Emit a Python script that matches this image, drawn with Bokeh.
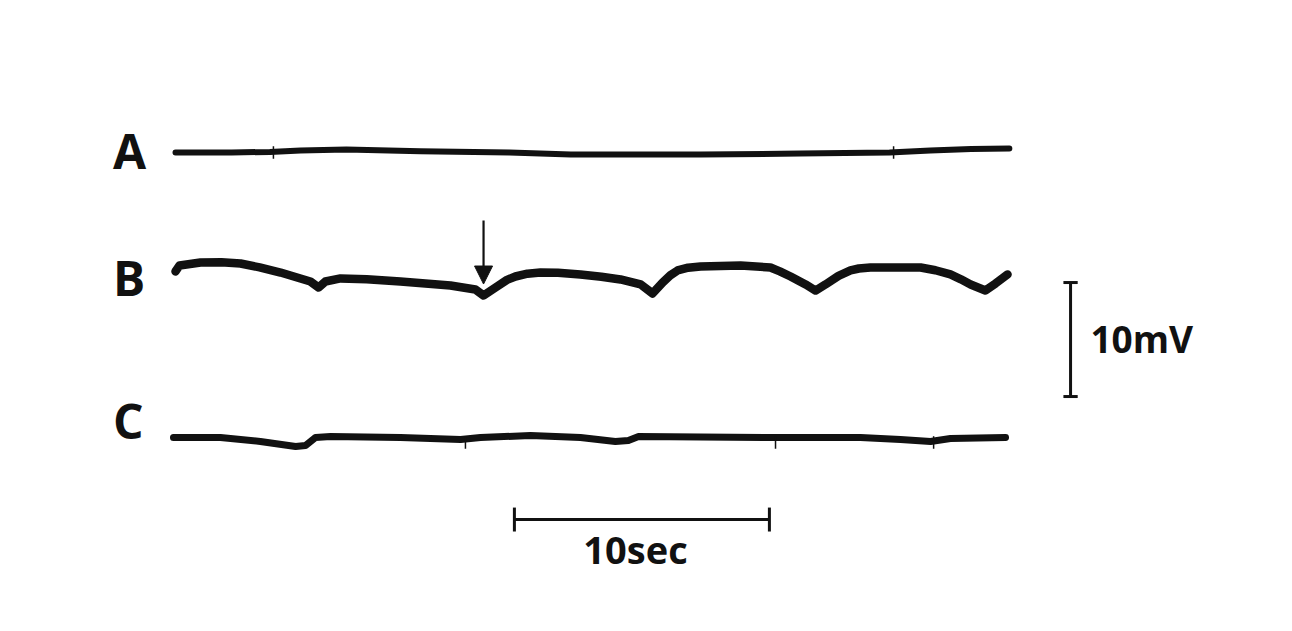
from bokeh.plotting import figure
from bokeh.models import Range1d, Arrow, NormalHead
from bokeh.embed import file_html
from bokeh.resources import INLINE
from bokeh.core.properties import value

# ---- data (time in s, potential in mV relative to each trace's baseline) ----
a_t = [0, 2.2, 3.7, 4.9, 6.7, 9.6, 13.1, 14.3, 15.5, 20.6, 24.5, 28.0, 29.6, 31.2, 32.7]
a_v = [0, 0, 0.05, 0.18, 0.26, 0.1, 0, -0.1, -0.18, -0.18, -0.1, 0, 0.18, 0.3, 0.35]

b_t = [0, 0.16, 0.98, 1.8, 2.55, 3.3, 4.12, 5.29, 5.61, 5.88, 6.47, 7.5, 8.82, 10.78, 11.76,
       12.08, 12.55, 13.0, 13.33, 13.8, 14.31, 15.0, 15.88, 16.7, 17.45, 18.24, 18.71, 19.10,
       19.4, 19.69, 20.1, 20.59, 22.16, 23.33, 23.7, 24.12, 24.71, 25.10, 25.49, 26.0, 26.47,
       26.8, 27.25, 29.22, 29.8, 30.39, 30.8, 31.18, 31.76, 32.16, 32.63]
b_v = [0.79, 1.32, 1.58, 1.6, 1.49, 1.15, 0.70, -0.09, -0.61, -0.09, 0.18, 0.1, -0.09, -0.44, -0.79,
       -1.32, -0.61, 0.05, 0.35, 0.6, 0.70, 0.68, 0.53, 0.33, 0.09, -0.35, -1.14, -0.18,
       0.45, 0.88, 1.12, 1.23, 1.32, 1.14, 0.8, 0.35, -0.35, -0.88, -0.35, 0.4, 0.88,
       1.05, 1.14, 1.14, 0.9, 0.53, 0.1, -0.35, -0.88, -0.26, 0.53]

c_t = [-0.08, 1.76, 3.33, 4.71, 5.10, 5.49, 6.08, 8.82, 11.18, 11.96, 13.92, 15.88, 17.25,
       17.76, 18.16, 20.59, 23.33, 26.86, 28.43, 29.61, 30.39, 32.55]
c_v = [0.09, 0.09, -0.26, -0.70, -0.61, 0.09, 0.18, 0.09, -0.09, 0.09, 0.26, 0.09, -0.26,
       -0.18, 0.18, 0.13, 0.09, 0.09, -0.09, -0.26, 0, 0.09]

a_marks = [3.84, 28.16]
c_marks = [11.37, 23.53, 29.73]
stimulus_t = [12.08]

trace_labels = ["A", "B", "C"]
scale_t = 10   # s
scale_v = 10   # mV
scale_t_label = "10sec"
scale_v_label = "10mV"

# ---- layout ----
off = {"A": 25.09, "B": 13.86, "C": 0.0}
W, H = 1276, 615
x0r = -6.863
y1r = 38.42
p = figure(width=W, height=H, output_backend="svg", toolbar_location=None,
           x_range=Range1d(x0r, x0r + W / 25.5), y_range=Range1d(y1r - H / 11.4, y1r),
           min_border=0, background_fill_color="white", border_fill_color="white")
p.axis.visible = False
p.grid.visible = False
p.outline_line_color = None

ink = "#111111"
p.line(a_t, [v + off["A"] for v in a_v], line_width=6, color=ink, line_join="round", line_cap="round")
p.line(b_t, [v + off["B"] for v in b_v], line_width=8.5, color=ink, line_join="round", line_cap="round")
p.line(c_t, [v + off["C"] for v in c_v], line_width=7, color=ink, line_join="round", line_cap="round")

# event marks
p.segment(x0=a_marks, x1=a_marks, y0=[off["A"] - 0.55] * len(a_marks), y1=[off["A"] + 0.55] * len(a_marks),
          line_width=1.5, color=ink)
p.segment(x0=c_marks, x1=c_marks, y0=[off["C"] - 0.9] * len(c_marks), y1=[off["C"] + 0.2] * len(c_marks),
          line_width=1.5, color=ink)

# stimulus arrow
p.add_layout(Arrow(end=NormalHead(size=18, fill_color=ink, line_color=ink),
                   x_start=stimulus_t[0], y_start=19.12, x_end=stimulus_t[0], y_end=13.55,
                   line_width=2.2, line_color=ink))

# trace labels
p.text(x=[-2.45] * 3, y=[25.25, 14.12, 1.57], text=trace_labels, text_font=value("Open Sans"),
       text_font_style="bold", text_font_size="48px", text_color=ink, text_baseline="alphabetic")

# time scale bar
t0 = 13.29
yb = -7.11
p.segment(x0=[t0], x1=[t0 + scale_t], y0=[yb], y1=[yb], line_width=3, color=ink)
p.segment(x0=[t0, t0 + scale_t], x1=[t0, t0 + scale_t], y0=[yb - 1.05] * 2, y1=[yb + 1.05] * 2,
          line_width=3, color=ink)
p.text(x=[18.04], y=[-9.69], text=[scale_t_label], text_font=value("Open Sans"),
       text_font_style="bold", text_font_size="38px", text_color=ink,
       text_align="center", text_baseline="alphabetic")

# voltage scale bar
xs = 35.10
v0 = 3.68
p.segment(x0=[xs], x1=[xs], y0=[v0], y1=[v0 + scale_v], line_width=3, color=ink)
p.segment(x0=[xs - 0.28] * 2, x1=[xs + 0.28] * 2, y0=[v0, v0 + scale_v], y1=[v0, v0 + scale_v],
          line_width=3, color=ink)
p.text(x=[35.88], y=[8.78], text=[scale_v_label], text_font=value("Open Sans"),
       text_font_style="bold", text_font_size="37px", text_color=ink, text_baseline="alphabetic")

open("out.html", "w").write(file_html(p, INLINE))
